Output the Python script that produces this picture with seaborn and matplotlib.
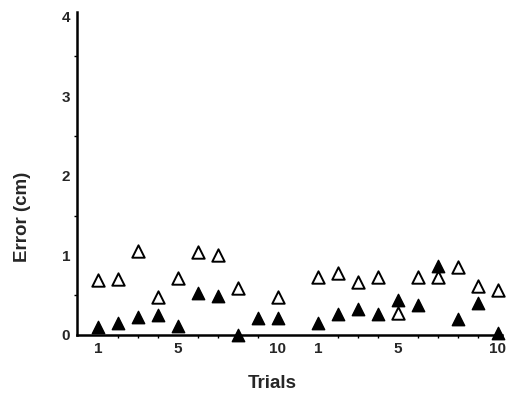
import matplotlib
matplotlib.use("Agg")
import matplotlib.pyplot as plt
import seaborn as sns
import pandas as pd
import numpy as np

# Data (two blocks of 10 trials each)
trials = list(range(1, 11))
block1_open = [0.69, 0.70, 1.06, 0.47, 0.72, 1.04, 1.00, 0.59, np.nan, 0.47]
block1_filled = [0.10, 0.15, 0.22, 0.25, 0.11, 0.53, 0.49, 0.00, 0.21, 0.21]
block2_open = [0.73, 0.78, 0.67, 0.73, 0.28, 0.73, 0.73, 0.85, 0.62, 0.56]
block2_filled = [0.15, 0.26, 0.33, 0.26, 0.44, 0.38, 0.87, 0.20, 0.40, 0.02]
xtick_labels = ["1", "5", "10", "1", "5", "10"]
ytick_labels = ["0", "1", "2", "3", "4"]

sns.set_theme(style="white")
plt.rcParams['font.family'] = ['Liberation Sans', 'DejaVu Sans']

# Positions: block 1 at trials 1..10, block 2 offset by 11
pos1 = trials
pos2 = [t + 11 for t in trials]
df = pd.DataFrame({
    "pos": pos1 + pos2 + pos1 + pos2,
    "err": block1_open + block2_open + block1_filled + block2_filled,
    "kind": ["open"] * 20 + ["filled"] * 20,
})

fig = plt.figure(figsize=(5.10, 3.94), dpi=100)
ax = fig.add_axes([0.151, 0.150, 0.833, 0.820])

op = df[df.kind == "open"]
fi = df[df.kind == "filled"]
sns.scatterplot(data=op, x="pos", y="err", marker="^", s=80, facecolor="white",
                edgecolor="black", linewidth=1.4, ax=ax, clip_on=False, zorder=3)
sns.scatterplot(data=fi, x="pos", y="err", marker="^", s=80, color="black",
                edgecolor="black", linewidth=1.0, ax=ax, clip_on=False, zorder=4)

ax.set_xlim(-0.05, 21.2)
ax.set_ylim(0, 4.06)

ax.set_xticks([1, 5, 10, 12, 16, 21])
ax.set_xticklabels(xtick_labels, fontsize=11, fontweight="bold")
ax.set_xticks(pos1 + pos2, minor=True)
ax.set_yticks([0, 1, 2, 3, 4])
ax.set_yticklabels(ytick_labels, fontsize=11, fontweight="bold")
ax.set_yticks(np.arange(0.5, 4.0, 1.0), minor=True)

ax.tick_params(axis="both", which="major", direction="out", length=3, width=1.2, color="black", pad=2)
ax.tick_params(axis="both", which="minor", direction="out", length=2.5, width=1.0, color="black", bottom=True, left=True)

for side in ["top", "right"]:
    ax.spines[side].set_visible(False)
for side in ["left", "bottom"]:
    ax.spines[side].set_color("black")
    ax.spines[side].set_linewidth(1.8)

ax.set_xlabel("Trials", fontsize=13.5, fontweight="bold")
ax.set_ylabel("Error (cm)", fontsize=13.5, fontweight="bold")
ax.xaxis.set_label_coords(0.459, -0.149)
ax.yaxis.set_label_coords(-0.128, 0.365)
ax.xaxis.label.set_verticalalignment("center")
ax.yaxis.label.set_verticalalignment("center")

fig.savefig("out.png", dpi=100)
